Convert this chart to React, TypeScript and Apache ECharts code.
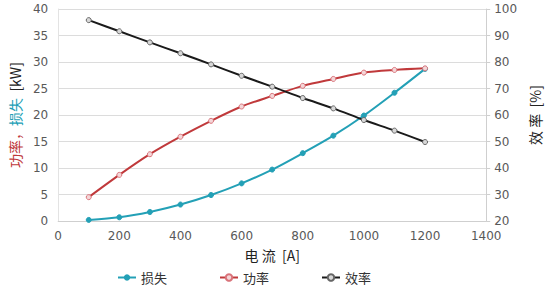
import React, { useEffect, useRef } from "react";
import * as echarts from "echarts";

const currents = [100, 200, 300, 400, 500, 600, 700, 800, 900, 1000, 1100, 1200];
const loss = [0.2, 0.7, 1.7, 3.1, 4.9, 7.1, 9.7, 12.8, 16.1, 19.9, 24.2, 28.7];
const power = [4.5, 8.7, 12.6, 15.9, 18.9, 21.6, 23.6, 25.5, 26.8, 28.0, 28.5, 28.8];
const efficiency = [95.8, 91.6, 87.4, 83.3, 79.1, 74.8, 70.7, 66.4, 62.5, 58.1, 54.1, 49.8];

const TEAL = "#23a0b6";
const RED = "#c0393b";
const BLACK = "#1a1a1a";
const LABEL = "#595959";
const GRIDC = "#dcdcdc";
const FONT = "DejaVu Sans";
const CJK = "Noto Sans CJK SC";

export default function App() {
  const ref = useRef<HTMLDivElement>(null);
  useEffect(() => {
    if (!ref.current) return;
    const chart = echarts.init(ref.current, undefined, { renderer: "svg" });
    const pair = (ys: number[]) => currents.map((x, i) => [x, ys[i]]);
    chart.setOption({
      animation: false,
      grid: { left: 58, right: 55, top: 9, bottom: 68, containLabel: false },
      legend: {
        bottom: 0,
        left: 112,
        itemGap: 52,
        itemWidth: 18,
        itemHeight: 8,
        textStyle: { fontFamily: CJK, fontSize: 13, color: "#333" },
        data: ["损失", "功率", "效率"],
      },
      xAxis: {
        type: "value",
        min: 0,
        max: 1400,
        interval: 200,
        name: "电 流  [A]",
        nameLocation: "middle",
        nameGap: 27,
        nameTextStyle: { fontFamily: CJK, fontSize: 14, color: "#222" },
        axisLine: { show: true, lineStyle: { color: "#cfcfcf" } },
        axisTick: { show: false },
        splitLine: { show: false },
        axisLabel: {
          fontFamily: FONT,
          fontSize: 12,
          color: LABEL,
          margin: 9,
          formatter: (v: number) => String(v),
        },
      },
      yAxis: [
        {
          type: "value",
          min: 0,
          max: 40,
          interval: 5,
          name: "{r|功率，}{b|损失}{k|  [kW]}",
          nameLocation: "middle",
          nameRotate: 90,
          nameGap: 33,
          nameTextStyle: {
            fontFamily: CJK,
            fontSize: 14,
            rich: {
              r: { color: RED, fontFamily: CJK, fontSize: 14 },
              b: { color: TEAL, fontFamily: CJK, fontSize: 14 },
              k: { color: "#222", fontFamily: CJK, fontSize: 14 },
            },
          },
          axisLine: { show: true, lineStyle: { color: "#e3e3e3" } },
          axisTick: { show: false },
          splitLine: { show: true, lineStyle: { color: GRIDC } },
          axisLabel: { fontFamily: FONT, fontSize: 12, color: LABEL, margin: 10 },
        },
        {
          type: "value",
          min: 20,
          max: 100,
          interval: 10,
          position: "right",
          name: "效 率  [%]",
          nameLocation: "middle",
          nameRotate: 90,
          nameGap: 38,
          nameTextStyle: { fontFamily: CJK, fontSize: 14, color: "#222" },
          axisLine: { show: true, lineStyle: { color: "#cfcfcf" } },
          axisTick: { show: true, length: 4, lineStyle: { color: "#cfcfcf" } },
          splitLine: { show: false },
          axisLabel: { fontFamily: FONT, fontSize: 12, color: LABEL, margin: 8 },
        },
      ],
      series: [
        {
          name: "损失",
          type: "line",
          yAxisIndex: 0,
          smooth: 0.3,
          data: pair(loss),
          symbol: "circle",
          symbolSize: 5,
          lineStyle: { color: TEAL, width: 2 },
          itemStyle: { color: TEAL, borderColor: TEAL },
        },
        {
          name: "功率",
          type: "line",
          yAxisIndex: 0,
          smooth: 0.3,
          data: pair(power),
          symbol: "circle",
          symbolSize: 5,
          lineStyle: { color: RED, width: 2 },
          itemStyle: { color: "#f4d6d8", borderColor: "#d9737a", borderWidth: 1 },
        },
        {
          name: "效率",
          type: "line",
          yAxisIndex: 1,
          smooth: 0.3,
          data: pair(efficiency),
          symbol: "circle",
          symbolSize: 5,
          lineStyle: { color: BLACK, width: 2 },
          itemStyle: { color: "#d8d8d8", borderColor: "#666", borderWidth: 1 },
        },
      ],
    });
    return () => chart.dispose();
  }, []);
  return <div ref={ref} style={{ width: 550, height: 289, position: "absolute", left: 0, top: 0 }} />;
}
